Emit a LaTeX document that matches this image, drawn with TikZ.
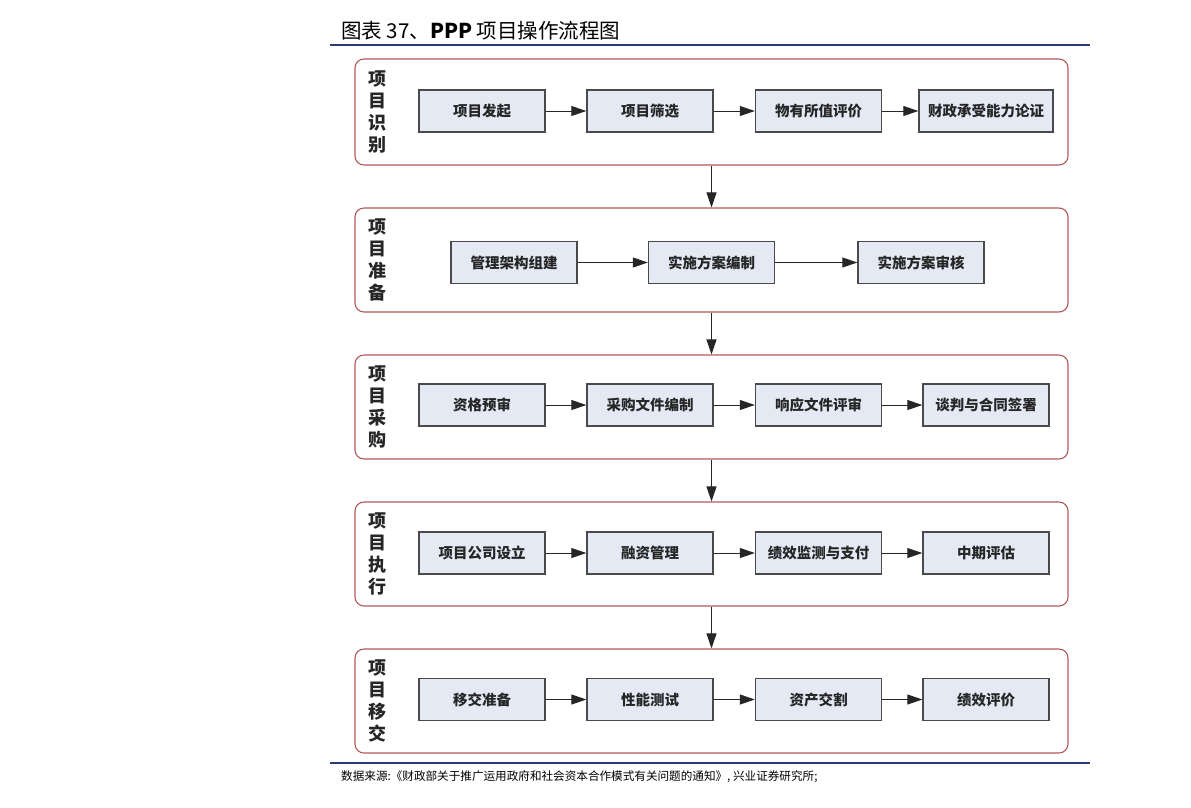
\documentclass[tikz,border=0pt]{standalone}
\usepackage{fontspec}
\setmainfont{Noto Sans CJK SC}
\usetikzlibrary{arrows.meta}
\definecolor{stagered}{HTML}{B05A5A}
\definecolor{boxline}{HTML}{4A4A4A}
\definecolor{boxfill}{HTML}{E4E9F4}
\definecolor{rulenavy}{HTML}{2E3A78}
\tikzset{
  stage/.style={draw=stagered, line width=1.1pt, rounded corners=9pt, fill=white, minimum width=713pt, inner sep=0pt},
  stepbox/.style={draw=boxline, line width=1.4pt, fill=boxfill, minimum width=126pt, minimum height=42pt, inner sep=0pt, font=\fontsize{14.5}{16}\selectfont\bfseries, text=black!85},
  flow/.style={line width=1pt, draw=black!85, -{Triangle[length=15pt,width=10pt]}},
  stagelabel/.style={font=\fontsize{18}{22}\selectfont\bfseries, align=center, text=black!85, inner sep=0pt},
  rulerline/.style={draw=rulenavy, line width=1.6pt},
}
\begin{document}
\begin{tikzpicture}[x=1pt,y=-1pt]
\useasboundingbox (0,0) rectangle (1191,807);
% title
\node[anchor=west, inner sep=0pt, font=\fontsize{20.5}{23}\selectfont] (title) at (341,31) {图表 37、\textbf{PPP} 项目操作流程图};
\coordinate (r1a) at (330,45); \coordinate (r1b) at (1090,45);
\draw[rulerline] (r1a) -- (r1b);
% stages
\node[stage, minimum height=106pt] (s1) at (711.5,112) {};
\node[stage, minimum height=104pt] (s2) at (711.5,260) {};
\node[stage, minimum height=104pt] (s3) at (711.5,407) {};
\node[stage, minimum height=104pt] (s4) at (711.5,554) {};
\node[stage, minimum height=104pt] (s5) at (711.5,701) {};
\node[stagelabel] (l1) at (377,112) {项\\目\\识\\别};
\node[stagelabel] (l2) at (377,260) {项\\目\\准\\备};
\node[stagelabel] (l3) at (377,407) {项\\目\\采\\购};
\node[stagelabel] (l4) at (377,554) {项\\目\\执\\行};
\node[stagelabel] (l5) at (377,701) {项\\目\\移\\交};
% row 1
\node[stepbox] (a1) at (482,111) {项目发起};
\node[stepbox] (a2) at (650,111) {项目筛选};
\node[stepbox] (a3) at (818.5,111) {物有所值评价};
\node[stepbox, minimum width=134pt] (a4) at (986,111) {财政承受能力论证};
% row 2
\node[stepbox] (b1) at (514,262.5) {管理架构组建};
\node[stepbox] (b2) at (711.5,262.5) {实施方案编制};
\node[stepbox] (b3) at (921,262.5) {实施方案审核};
% row 3
\node[stepbox] (c1) at (482,405) {资格预审};
\node[stepbox] (c2) at (650,405) {采购文件编制};
\node[stepbox] (c3) at (818.5,405) {响应文件评审};
\node[stepbox] (c4) at (986,405) {谈判与合同签署};
% row 4
\node[stepbox] (d1) at (482,553) {项目公司设立};
\node[stepbox] (d2) at (650,553) {融资管理};
\node[stepbox] (d3) at (818.5,553) {绩效监测与支付};
\node[stepbox] (d4) at (986,553) {中期评估};
% row 5
\node[stepbox] (e1) at (482,699.5) {移交准备};
\node[stepbox] (e2) at (650,699.5) {性能测试};
\node[stepbox] (e3) at (818.5,699.5) {资产交割};
\node[stepbox] (e4) at (986,699.5) {绩效评价};
% horizontal arrows
\draw[flow] (a1) -- (a2); \draw[flow] (a2) -- (a3); \draw[flow] (a3) -- (a4);
\draw[flow] (b1) -- (b2); \draw[flow] (b2) -- (b3);
\draw[flow] (c1) -- (c2); \draw[flow] (c2) -- (c3); \draw[flow] (c3) -- (c4);
\draw[flow] (d1) -- (d2); \draw[flow] (d2) -- (d3); \draw[flow] (d3) -- (d4);
\draw[flow] (e1) -- (e2); \draw[flow] (e2) -- (e3); \draw[flow] (e3) -- (e4);
% vertical arrows
\draw[flow] (s1) -- (s2); \draw[flow] (s2) -- (s3); \draw[flow] (s3) -- (s4); \draw[flow] (s4) -- (s5);
% bottom rule and source
\coordinate (r2a) at (330,763); \coordinate (r2b) at (1090,763);
\draw[rulerline] (r2a) -- (r2b);
\node[anchor=west, inner sep=0pt, font=\fontsize{11.6}{13}\selectfont] (src) at (341,777) {数据来源:《财政部关于推广运用政府和社会资本合作模式有关问题的通知》, 兴业证券研究所;};
\end{tikzpicture}
\end{document}
